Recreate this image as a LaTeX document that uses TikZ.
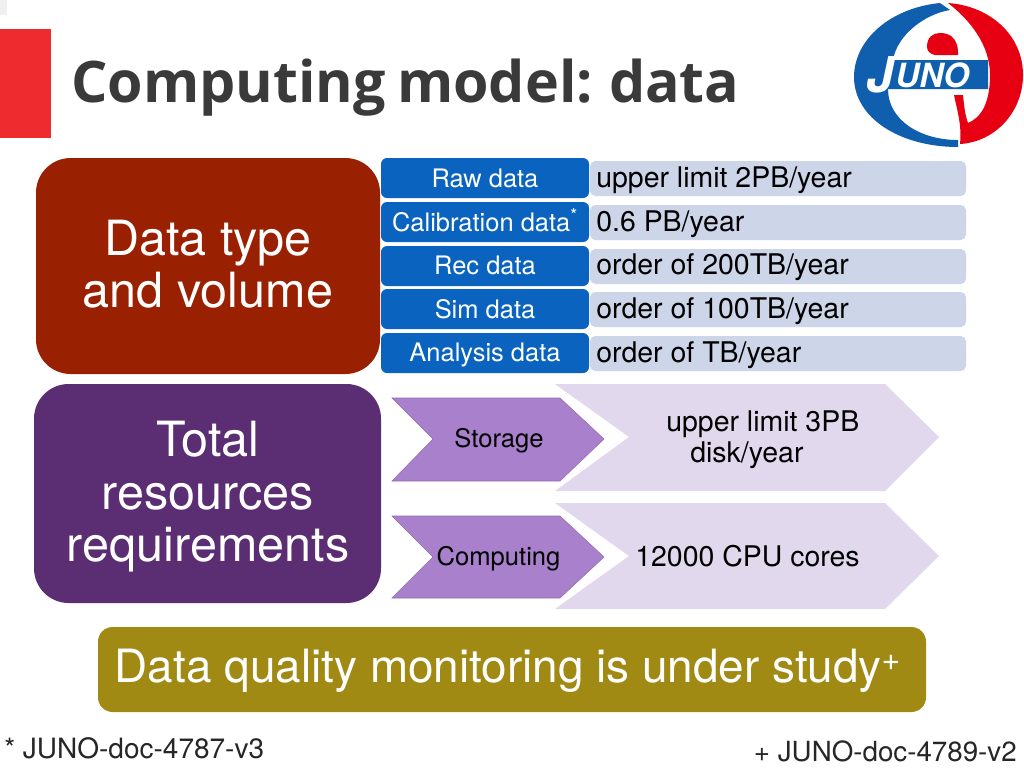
\documentclass[tikz,border=0pt]{standalone}
\usepackage{fontspec}
\setmainfont{TeX Gyre Heros}
\newfontfamily\titlefont[WordSpace=0.75]{Open Sans}
\definecolor{barred}{HTML}{EE2C2F}
\definecolor{titlegray}{HTML}{3A3A3A}
\definecolor{rustred}{HTML}{992000}
\definecolor{deeppurple}{HTML}{5B2D73}
\definecolor{olivebar}{HTML}{A08A14}
\definecolor{bluecell}{HTML}{0A64BF}
\definecolor{palecell}{HTML}{CDD5E8}
\definecolor{chevdark}{HTML}{A980CC}
\definecolor{chevlight}{HTML}{E2D8EE}
\definecolor{logoblue}{HTML}{0F5FAE}
\definecolor{logored}{HTML}{E60012}
\newcommand{\fs}[1]{\fontsize{#1}{#1}\selectfont}
\tikzset{
 valtext/.style={anchor=west,inner sep=0pt,text=black,font=\fs{21.35}},
 celltext/.style={text=white,font=\fs{19.1}},
 chevtext/.style={text=black,font=\fs{19.2}},
 bigtext/.style={align=center,text=white,font=\fontsize{36.4}{39.4}\selectfont},
 chevedge/.style={fill=chevdark,draw=chevdark!85!black,line width=0.4pt},
}
\begin{document}
\begin{tikzpicture}[x=0.75pt,y=-0.75pt]
\useasboundingbox (0,0) rectangle (1024,768);
\fill[white] (0,0) rectangle (1024,768);
\fill[black!6] (0,0) rectangle (7,15);
% title bar and title
\fill[barred] (0,29) rectangle (51,138);
\node[anchor=west,inner sep=0pt,text=titlegray,font=\titlefont\bfseries\fs{43}] (title) at (71,88) {Computing model: data};
% logo
\fill[logoblue] (940,3) .. controls (890,8) and (854,40) .. (854,77)
  .. controls (854,118) and (900,147) .. (958,147)
  -- (958,140) .. controls (920,140) and (888,120) .. (888,89)
  -- (988,89) -- (988,60) -- (893,60)
  .. controls (897,35) and (925,14) .. (950,10) -- cycle;
\fill[logored] (948,3) .. controls (990,6) and (1023,35) .. (1023,75)
  .. controls (1023,112) and (995,142) .. (960,144)
  .. controls (962,125) and (957,110) .. (954,95) -- (963,95)
  .. controls (964,105) and (965,115) .. (968,123)
  .. controls (980,118) and (990,105) .. (990,75)
  .. controls (990,45) and (970,20) .. (948,3) -- cycle;
\fill[logored] (927,47) .. controls (927,37) and (933,33) .. (940,33)
  .. controls (950,33) and (955,38) .. (957,45)
  .. controls (958,48) and (958,52) .. (958,55) -- (935,55)
  .. controls (930,54) and (927,51) .. (927,47) -- cycle;
\node[inner sep=0pt,text=white,font=\itshape\bfseries\fs{37}] (logoj) at (880,75) {J};
\node[inner sep=0pt,anchor=west,text=white,font=\itshape\bfseries\fs{25}] (logot) at (895,75) {UNO};
% big boxes
\fill[rustred,rounded corners=26pt] (36,158) rectangle (380,374);
\node[bigtext] (dtv) at (208,264) {Data type\\and volume};
\fill[deeppurple,rounded corners=26pt] (34,384) rectangle (381,603);
\node[bigtext] (trr) at (208,497) {Total\\resources\\requirements};
\fill[olivebar,rounded corners=11pt] (98,627) rectangle (926,712);
\node[text=white,font=\fs{34.4}] (dq) at (508,671) {Data quality monitoring is under study\smash{\textsuperscript{+}}};
% table rows
\foreach \t/\b in {161/196,205/240,249/284,292/327,336/371}
  \fill[palecell,rounded corners=4pt] (590,\t) rectangle (966,\b);
\foreach \t/\b in {158/198,202/242,246/286,289/329,333/373}
  \fill[bluecell,rounded corners=4.5pt] (381,\t) rectangle (589,\b);
\node[celltext] (r1) at (485,178) {Raw data};
\node[celltext] (r2) at (485,222) {Calibration data\smash{\textsuperscript{*}}};
\node[celltext] (r3) at (485,265) {Rec data};
\node[celltext] (r4) at (485,309) {Sim data};
\node[celltext] (r5) at (485,355) {Analysis data};
\node[valtext] (v1) at (596,180) {upper limit 2PB/year};
\node[valtext] (v2) at (596,224) {0.6 PB/year};
\node[valtext] (v3) at (596,267) {order of 200TB/year};
\node[valtext] (v4) at (596,311) {order of 100TB/year};
\node[valtext] (v5) at (596,355) {order of TB/year};
% chevrons
\fill[chevlight] (555,384) -- (885,384) -- (939,437) -- (885,491) -- (555,491) -- (629,437) -- cycle;
\fill[chevlight] (555,503) -- (885,503) -- (939,556) -- (885,609) -- (555,609) -- (629,556) -- cycle;
\path[chevedge] (392,398) -- (560,398) -- (604,439) -- (560,481) -- (392,481) -- (433,439) -- cycle;
\path[chevedge] (392,516) -- (560,516) -- (604,557) -- (560,598) -- (392,598) -- (433,557) -- cycle;
\node[chevtext] (sto) at (499,441) {Storage};
\node[chevtext] (com) at (498.5,559) {Computing};
\node[valtext] (st1) at (666,424) {upper limit 3PB};
\node[valtext] (st2) at (690,455) {disk/year};
\node[valtext] (cpu) at (635,556) {12000 CPU cores};
% references
\node[anchor=west,inner sep=0pt,text=black!85,font=\fs{21}] (refa) at (4,748) {* JUNO-doc-4787-v3};
\node[anchor=east,inner sep=0pt,text=black!85,font=\fs{20.8}] (refb) at (1017,751) {+ JUNO-doc-4789-v2};
\end{tikzpicture}
\end{document}
